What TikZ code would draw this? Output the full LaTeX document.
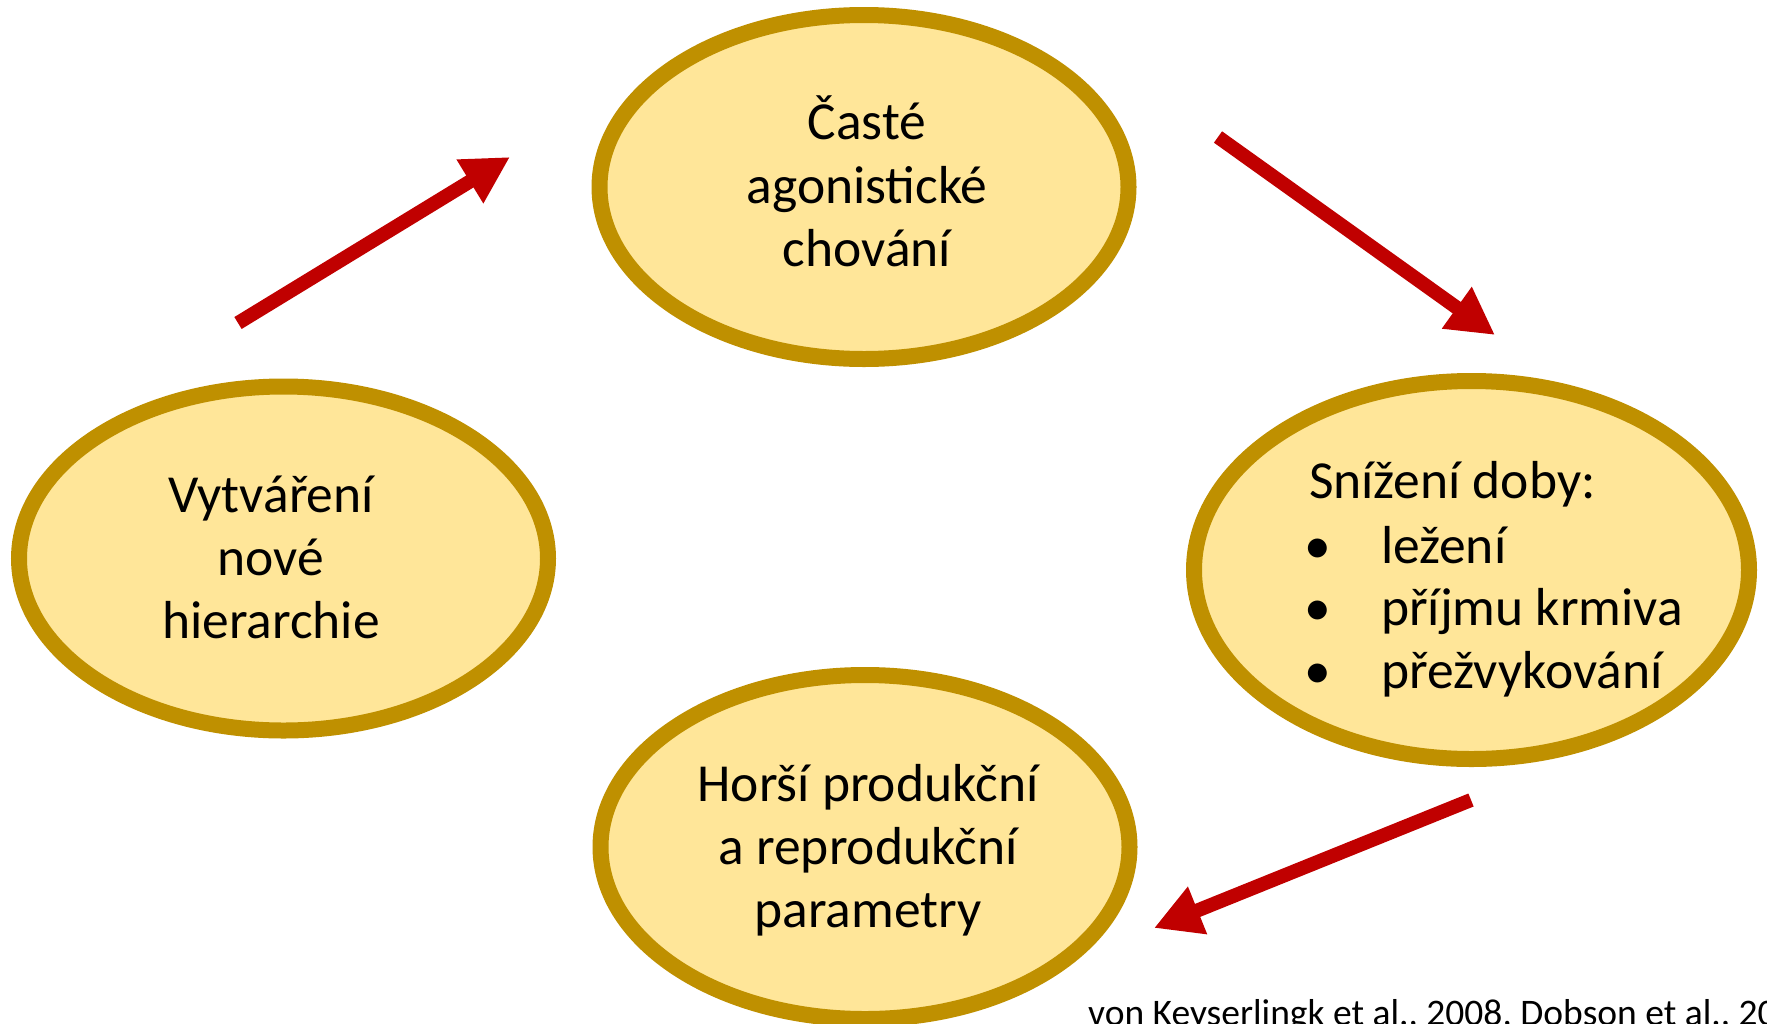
\documentclass[tikz,border=0pt]{standalone}
\usepackage{fontspec}
\setmainfont{Carlito}
\usetikzlibrary{arrows.meta,shapes.geometric}
\definecolor{fillY}{HTML}{FFE699}
\definecolor{edgeG}{HTML}{BF9000}
\definecolor{arrR}{HTML}{C00000}
\begin{document}
\begin{tikzpicture}[x=1pt,y=-1pt,
  bubble/.style={ellipse, draw=edgeG, fill=fillY, line width=16pt, inner sep=0pt, outer sep=0pt, minimum width=529pt, minimum height=344pt},
  txt/.style={anchor=base, inner sep=0pt, outer sep=0pt, font=\fontsize{53.5}{64}\selectfont},
  txtw/.style={txt, anchor=base west},
  arr/.style={draw=arrR, line width=14pt, -{Triangle[length=47pt,width=48pt]}, color=arrR}]
\useasboundingbox (0,0) rectangle (1767,1023);
% ellipses
\node[bubble] (top) at (864,187) {};
\node[bubble] (left) at (283.5,558.5) {};
\node[bubble, minimum width=555pt, minimum height=378pt] (right) at (1471.5,570) {};
\node[bubble] (bottom) at (865,847) {};
% top text
\node[txt] (t1) at (867,139) {Časté};
\node[txt] (t2) at (867,203) {agonistické};
\node[txt] (t3) at (867,266) {chování};
% left text
\node[txt] (l1) at (271,512) {Vytváření};
\node[txt] (l2) at (271,575) {nové};
\node[txt] (l3) at (271,638) {hierarchie};
% right text
\node[txtw] (r0) at (1309,498) {Snížení doby:};
\node[txt] (b1) at (1318,563) {•};
\node[txt] (b2) at (1318,625) {•};
\node[txt] (b3) at (1318,688) {•};
\node[txtw] (r1) at (1381,563) {ležení};
\node[txtw] (r2) at (1381,625) {příjmu krmiva};
\node[txtw] (r3) at (1381,688) {přežvykování};
% bottom text
\node[txt] (d1) at (868,801) {Horší produkční};
\node[txt] (d2) at (868,864) {a reprodukční};
\node[txt] (d3) at (868,927) {parametry};
% citation
\node[anchor=base west, inner sep=0pt, font=\fontsize{37.5}{44}\selectfont] (cite) at (1088,1025) {von Keyserlingk et al., 2008, Dobson et al., 20};
% arrows
\coordinate (a1s) at (238,323);
\coordinate (a1e) at (510,157);
\coordinate (a2s) at (1218,137);
\coordinate (a2e) at (1495,335);
\coordinate (a3s) at (1471,800);
\coordinate (a3e) at (1154,928);
\draw[arr] (a1s) -- (a1e);
\draw[arr] (a2s) -- (a2e);
\draw[arr] (a3s) -- (a3e);
\end{tikzpicture}
\end{document}
